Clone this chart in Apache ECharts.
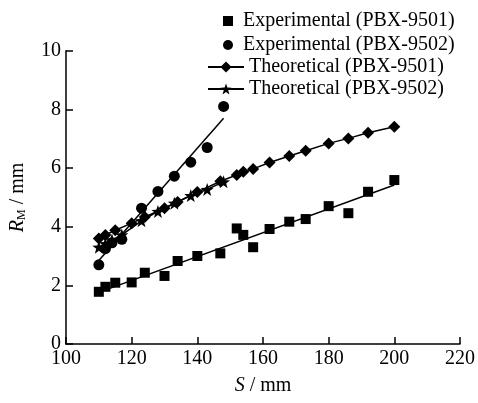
<!DOCTYPE html>
<html>
<head>
<meta charset="utf-8">
<script src="https://cdn.jsdelivr.net/npm/echarts@6/dist/echarts.min.js"></script>
<style>html,body{margin:0;padding:0;background:#fff}#c{width:478px;height:403px}</style>
</head>
<body>
<div id="c"></div>
<script>
// ---- data ----
const exp9501X = [110,112,115,120,124,130,134,140,147,152,154,157,162,168,173,180,186,192,200];
const exp9501Y = [1.78,1.95,2.09,2.10,2.43,2.32,2.83,3.00,3.09,3.94,3.72,3.30,3.92,4.17,4.26,4.70,4.46,5.19,5.59];
const theo9501Y = [3.60,3.72,3.88,4.12,4.33,4.63,4.84,5.18,5.55,5.76,5.87,5.97,6.19,6.41,6.59,6.84,7.01,7.20,7.41];
const exp9502X = [110,112,114,117,123,128,133,138,143,148];
const exp9502Y = [2.70,3.25,3.45,3.57,4.63,5.20,5.72,6.20,6.70,8.10];
const theo9502Y = [3.30,3.42,3.55,3.72,4.20,4.52,4.80,5.06,5.27,5.53];
const fit9501X = [110,200];
const fit9501Y = [1.76,5.42];
const fit9502X = [110,148];
const fit9502Y = [2.85,7.70];
const xTicks = [100,120,140,160,180,200,220];
const yTicks = [0,2,4,6,8,10];
const names = ['Experimental (PBX-9501)','Experimental (PBX-9502)','Theoretical (PBX-9501)','Theoretical (PBX-9502)'];

const zip = (xs, ys) => xs.map((x, i) => [x, ys[i]]);
const FONT = "'Liberation Serif','Times New Roman',serif";
const STAR = 'path://M50,0L61.76,33.82L97.55,34.55L69.02,56.18L79.39,90.45L50,70L20.61,90.45L30.98,56.18L2.45,34.55L38.24,33.82Z';
const SQUARE = 'path://M0,0L10,0L10,10L0,10Z';

const chart = echarts.init(document.getElementById('c'), null, {renderer: 'canvas'});
chart.setOption({
  animation: false,
  backgroundColor: '#fff',
  textStyle: {fontFamily: FONT, color: '#000'},
  grid: {left: 64.5, right: 15, top: 50.7, bottom: 59, containLabel: false},
  legend: [{
    orient: 'vertical', left: 218, top: 6, itemGap: 4,
    itemWidth: 20, itemHeight: 10,
    textStyle: {fontFamily: FONT, fontSize: 20, color: '#000'},
    data: [{name: names[0], icon: SQUARE, itemStyle: {opacity: 1}}, {name: names[1], icon: 'circle', itemStyle: {opacity: 1}}]
  }, {
    orient: 'vertical', left: 202, top: 52, itemGap: 2,
    itemWidth: 36, itemHeight: 14,
    textStyle: {fontFamily: FONT, fontSize: 20, color: '#000'},
    data: [names[2], names[3]]
  }],
  xAxis: {
    type: 'value', min: xTicks[0], max: xTicks[xTicks.length - 1], interval: 20,
    name: '{i|S}{n| / mm}', nameLocation: 'middle', nameGap: 32,
    nameTextStyle: {rich: {
      i: {fontFamily: FONT, fontSize: 20, fontStyle: 'italic', color: '#000'},
      n: {fontFamily: FONT, fontSize: 20, color: '#000'}
    }},
    axisLine: {show: true, lineStyle: {color: '#000', width: 1.5}},
    axisTick: {show: true, inside: true, length: 7, lineStyle: {color: '#000', width: 1.5}},
    axisLabel: {fontFamily: FONT, fontSize: 20, color: '#000', margin: 5},
    splitLine: {show: false}
  },
  yAxis: {
    type: 'value', min: yTicks[0], max: yTicks[yTicks.length - 1], interval: 2,
    name: '{i|R}{s|M}{n| / mm}', nameLocation: 'middle', nameGap: 38, nameRotate: 90,
    nameTextStyle: {rich: {
      i: {fontFamily: FONT, fontSize: 20, fontStyle: 'italic', color: '#000', lineHeight: 20},
      s: {fontFamily: FONT, fontSize: 12, color: '#000', verticalAlign: 'bottom', lineHeight: 12, padding: [6,0,0,0]},
      n: {fontFamily: FONT, fontSize: 20, color: '#000', lineHeight: 20}
    }},
    axisLine: {show: true, lineStyle: {color: '#000', width: 1.5}},
    axisTick: {show: true, inside: true, length: 7, lineStyle: {color: '#000', width: 1.5}},
    axisLabel: {fontFamily: FONT, fontSize: 20, color: '#000', margin: 5},
    splitLine: {show: false}
  },
  series: [
    {name: names[0], type: 'scatter', data: zip(exp9501X, exp9501Y), symbol: 'rect', symbolSize: 10,
     itemStyle: {color: '#000', opacity: 1}, z: 5},
    {name: names[1], type: 'scatter', data: zip(exp9502X, exp9502Y), symbol: 'circle', symbolSize: 11,
     itemStyle: {color: '#000', opacity: 1}, z: 5},
    {name: names[2], type: 'line', data: zip(exp9501X, theo9501Y), symbol: 'diamond', symbolSize: 12,
     showSymbol: true, itemStyle: {color: '#000', opacity: 1}, lineStyle: {color: '#000', width: 1.5}, z: 4},
    {name: names[3], type: 'line', data: zip(exp9502X, theo9502Y), symbol: STAR, symbolSize: 13,
     showSymbol: true, itemStyle: {color: '#000', opacity: 1}, lineStyle: {color: '#000', width: 1.5}, z: 4},
    {name: 'fit9501', type: 'line', data: zip(fit9501X, fit9501Y), symbol: 'none',
     lineStyle: {color: '#000', width: 1.5}, z: 3},
    {name: 'fit9502', type: 'line', data: zip(fit9502X, fit9502Y), symbol: 'none',
     lineStyle: {color: '#000', width: 1.5}, z: 3}
  ]
});
</script>
</body>
</html>
